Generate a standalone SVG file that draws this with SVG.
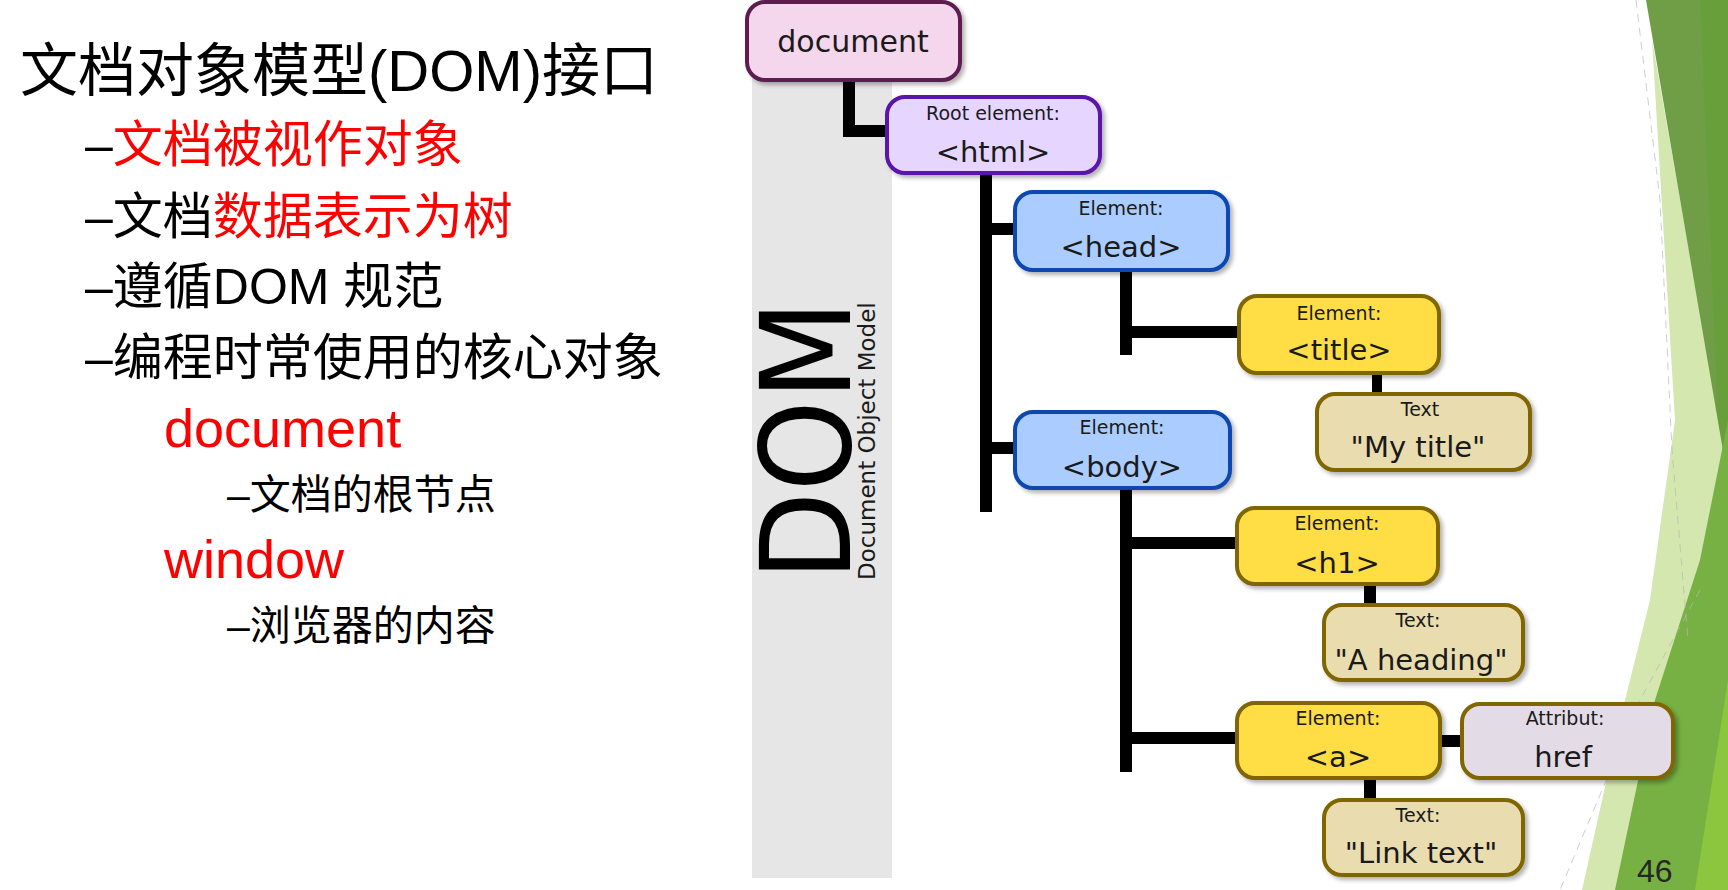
<svg xmlns="http://www.w3.org/2000/svg" width="1728" height="890" viewBox="0 0 1728 890">
<defs>
<style>
.cn{fill:none;stroke:#000;stroke-width:12;stroke-linecap:butt;stroke-linejoin:miter}
.nd{stroke-width:4;filter:url(#sh)}
.sm{font-family:"DejaVu Sans",sans-serif;font-size:19px;fill:#1a1a1a;text-anchor:middle}
.lg{font-family:"DejaVu Sans",sans-serif;font-size:29px;fill:#1a1a1a;text-anchor:middle}
.zh{font-family:"Liberation Sans","Noto Sans CJK SC",sans-serif;fill:#000}
.red{fill:#ff0000}
.doc{fill:#f4d7ec;stroke:#5e1f50}
.root{fill:#e5d5ff;stroke:#5a12a8}
.el{fill:#aaccff;stroke:#0a47b0}
.yel{fill:#ffdd44;stroke:#806600}
.txt{fill:#e9ddaf;stroke:#806600}
.att{fill:#e3dce6;stroke:#806600}
.dash{fill:none;stroke:#b8b8b8;stroke-width:1;stroke-dasharray:8 6;opacity:0.7}
</style>
<filter id="sh" x="-10%" y="-10%" width="130%" height="140%">
<feDropShadow dx="3" dy="3" stdDeviation="2" flood-color="#000" flood-opacity="0.3"/>
</filter>
</defs>
<rect x="0" y="0" width="1728" height="890" fill="#ffffff"/>

<!-- right decorations -->
<g id="decor">
<polygon points="1652,40 1675,420 1650,600 1620,720 1582,890 1728,890 1728,470" fill="#d3e7ae"/>
<polygon points="1646,0 1728,0 1728,480" fill="#6f9e47"/>
<polygon points="1700,0 1728,0 1728,470 1718,420" fill="#699f3a"/>
<polygon points="1728,420 1728,890 1615,890 1655,700 1700,560" fill="#77b043"/>
<polygon points="1728,680 1728,890 1695,890" fill="#8cc63f"/>
<polyline class="dash" points="1636,0 1660,200 1672,450 1688,640"/>
<polyline class="dash" points="1700,590 1640,700 1560,890"/>
</g>

<!-- left text -->
<g id="bullets">
<text class="zh" x="20" y="91" font-size="58">文档对象模型(DOM)接口</text>
<text class="zh" x="85" y="162" font-size="50">–<tspan class="red">文档被视作对象</tspan></text>
<text class="zh" x="85" y="234" font-size="50">–文档<tspan class="red">数据表示为树</tspan></text>
<text class="zh" x="85" y="304" font-size="50">–遵循DOM 规范</text>
<text class="zh" x="85" y="375" font-size="50">–编程时常使用的核心对象</text>
<text class="zh red" x="164" y="447" font-size="54">document</text>
<text class="zh" x="227" y="509" font-size="41">–文档的根节点</text>
<text class="zh red" x="164" y="578" font-size="54">window</text>
<text class="zh" x="227" y="640" font-size="41">–浏览器的内容</text>
</g>

<!-- DOM band -->
<g id="dom-band">
<rect x="752" y="40" width="140" height="838" fill="#e6e6e6"/>
<text transform="translate(850,581) rotate(-90)" font-family="DejaVu Sans,sans-serif" font-size="125" fill="#000" textLength="281" lengthAdjust="spacingAndGlyphs">DOM</text>
<text transform="translate(875,580) rotate(-90)" font-family="DejaVu Sans,sans-serif" font-size="23" fill="#1a1a1a">Document Object Model</text>
</g>

<!-- connectors -->
<g id="connectors">
<path class="cn" d="M849,80 V131 H887"/>
<path class="cn" d="M986,173 V512"/>
<path class="cn" d="M986,229 H1015"/>
<path class="cn" d="M986,448 H1015"/>
<path class="cn" d="M1126,270 V355"/>
<path class="cn" d="M1126,332 H1239"/>
<path class="cn" d="M1377,373 V394" style="stroke-width:10"/>
<path class="cn" d="M1126,488 V772"/>
<path class="cn" d="M1126,543 H1237"/>
<path class="cn" d="M1126,738 H1237"/>
<path class="cn" d="M1370,584 V605"/>
<path class="cn" d="M1440,741 H1462"/>
<path class="cn" d="M1370,778 V800"/>
</g>

<!-- nodes -->
<g id="node-document">
<rect class="nd doc" x="747" y="2" width="213" height="78" rx="18"/>
<text class="lg" x="853" y="52" style="font-size:30px">document</text>
</g>
<g id="node-html">
<rect class="nd root" x="887" y="97" width="213" height="76" rx="18"/>
<text class="sm" x="993" y="120">Root element:</text>
<text class="lg" x="993" y="162">&lt;html&gt;</text>
</g>
<g id="node-head">
<rect class="nd el" x="1015" y="192" width="213" height="78" rx="18"/>
<text class="sm" x="1121" y="215">Element:</text>
<text class="lg" x="1121" y="257">&lt;head&gt;</text>
</g>
<g id="node-body">
<rect class="nd el" x="1015" y="412" width="215" height="76" rx="18"/>
<text class="sm" x="1122" y="434">Element:</text>
<text class="lg" x="1122" y="477">&lt;body&gt;</text>
</g>
<g id="node-title">
<rect class="nd yel" x="1239" y="296" width="200" height="77" rx="18"/>
<text class="sm" x="1339" y="320">Element:</text>
<text class="lg" x="1339" y="360">&lt;title&gt;</text>
</g>
<g id="node-mytitle">
<rect class="nd txt" x="1317" y="394" width="213" height="76" rx="18"/>
<text class="sm" x="1420" y="416">Text</text>
<text class="lg" x="1418" y="457">"My title"</text>
</g>
<g id="node-h1">
<rect class="nd yel" x="1237" y="508" width="201" height="76" rx="18"/>
<text class="sm" x="1337" y="530">Element:</text>
<text class="lg" x="1337" y="573">&lt;h1&gt;</text>
</g>
<g id="node-aheading">
<rect class="nd txt" x="1324" y="605" width="199" height="75" rx="18"/>
<text class="sm" x="1418" y="627">Text:</text>
<text class="lg" x="1421" y="670">"A heading"</text>
</g>
<g id="node-a">
<rect class="nd yel" x="1237" y="703" width="203" height="75" rx="18"/>
<text class="sm" x="1338" y="725">Element:</text>
<text class="lg" x="1338" y="767">&lt;a&gt;</text>
</g>
<g id="node-attribut">
<rect class="nd att" x="1462" y="704" width="211" height="74" rx="18"/>
<text class="sm" x="1565" y="725">Attribut:</text>
<text class="lg" x="1563" y="767">href</text>
</g>
<g id="node-linktext">
<rect class="nd txt" x="1324" y="800" width="199" height="75" rx="18"/>
<text class="sm" x="1418" y="822">Text:</text>
<text class="lg" x="1421" y="863">"Link text"</text>
</g>

<text x="1637" y="882" font-family="Liberation Sans,sans-serif" font-size="32" fill="#262626">46</text>
</svg>
